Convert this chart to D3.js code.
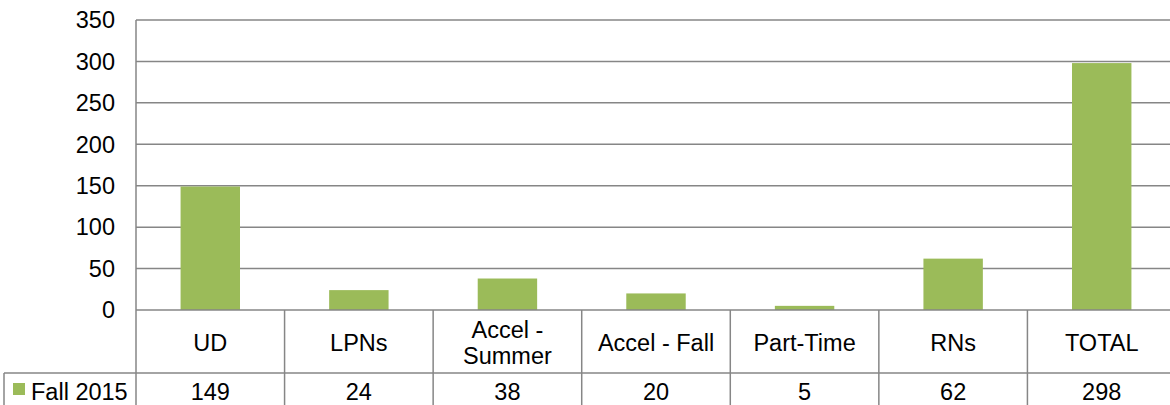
<!DOCTYPE html>
<html>
<head>
<meta charset="utf-8">
<script src="https://cdn.jsdelivr.net/npm/d3@7"></script>
<style>
  html, body { margin: 0; padding: 0; background: #fff; overflow: hidden; }
  svg { display: block; font-family: "Liberation Sans", Arial, sans-serif; }
</style>
</head>
<body>
<svg id="chart" width="1170" height="405"></svg>
<script>
// chart data
const categories = ['UD', 'LPNs', 'Accel - Summer', 'Accel - Fall', 'Part-Time', 'RNs', 'TOTAL'];
const fall2015 = [149, 24, 38, 20, 5, 62, 298];
const seriesName = 'Fall 2015';
const yTicks = [0, 50, 100, 150, 200, 250, 300, 350];

const svg = d3.select('#chart');
const plotL = 136, plotR = 1176, plotT = 20, base = 310, row2 = 373, tableB = 420;
const grey = '#868686', green = '#9BBB59', fontSize = 23.5;

const x = d3.scaleBand().domain(categories).range([plotL, plotR]).padding(0);
const xBar = d3.scaleBand().domain(categories).range([plotL, plotR])
  .paddingInner(0.6).paddingOuter(0.3);
const y = d3.scaleLinear().domain([0, 350]).range([base, plotT]);

// gridlines
svg.append('g').selectAll('line')
  .data(yTicks.filter(d => d > 0))
  .enter().append('line')
  .attr('x1', plotL).attr('x2', plotR)
  .attr('y1', d => y(d)).attr('y2', d => y(d))
  .attr('stroke', grey).attr('stroke-width', 1.5);

// y tick labels
svg.append('g').selectAll('text')
  .data(yTicks)
  .enter().append('text')
  .attr('x', 115).attr('y', d => y(d))
  .attr('dy', '0.35em')
  .attr('text-anchor', 'end')
  .attr('font-size', fontSize)
  .attr('fill', '#000')
  .text(d => d);

// bars
svg.append('g').selectAll('rect')
  .data(fall2015)
  .enter().append('rect')
  .attr('x', (d, i) => xBar(categories[i]))
  .attr('width', xBar.bandwidth())
  .attr('y', d => y(d))
  .attr('height', d => y(0) - y(d))
  .attr('fill', green);

// data table lines
const lines = svg.append('g').attr('stroke', grey).attr('stroke-width', 1.5);
lines.append('line').attr('x1', plotL).attr('x2', plotL).attr('y1', plotT).attr('y2', tableB);
lines.append('line').attr('x1', plotL).attr('x2', plotR).attr('y1', base).attr('y2', base);
lines.append('line').attr('x1', 4).attr('x2', plotR).attr('y1', row2).attr('y2', row2);
lines.append('line').attr('x1', 4).attr('x2', 4).attr('y1', row2).attr('y2', tableB);
lines.selectAll('.sep')
  .data(categories.slice(1))
  .enter().append('line')
  .attr('class', 'sep')
  .attr('x1', d => x(d)).attr('x2', d => x(d))
  .attr('y1', base).attr('y2', tableB);

// category labels, wrapped to cell width
const measure = svg.append('text').attr('font-size', fontSize).attr('visibility', 'hidden');
function wrap(label, maxW) {
  const words = label.split(' ');
  const out = [];
  let cur = '';
  words.forEach(w => {
    const test = cur ? cur + ' ' + w : w;
    measure.text(test);
    if (cur && measure.node().getComputedTextLength() > maxW) {
      out.push(cur);
      cur = w;
    } else {
      cur = test;
    }
  });
  if (cur) out.push(cur);
  return out;
}

const lineH = 26;
const catG = svg.append('g');
categories.forEach(c => {
  const rows = wrap(c, x.bandwidth() - 10);
  const cy = (base + row2) / 2 + 1;
  const t = catG.append('text')
    .attr('text-anchor', 'middle')
    .attr('font-size', fontSize)
    .attr('fill', '#000');
  rows.forEach((r, j) => {
    t.append('tspan')
      .attr('x', x(c) + x.bandwidth() / 2)
      .attr('y', cy + (j - (rows.length - 1) / 2) * lineH)
      .attr('dy', '0.35em')
      .text(r);
  });
});
measure.remove();

// value row
const valY = 392;
svg.append('g').selectAll('text')
  .data(fall2015)
  .enter().append('text')
  .attr('x', (d, i) => x(categories[i]) + x.bandwidth() / 2)
  .attr('y', valY)
  .attr('dy', '0.35em')
  .attr('text-anchor', 'middle')
  .attr('font-size', fontSize)
  .attr('fill', '#000')
  .text(d => d);

// legend key in table
svg.append('rect').attr('x', 13).attr('y', 383).attr('width', 12).attr('height', 12).attr('fill', green);
svg.append('text')
  .attr('x', 31).attr('y', valY).attr('dy', '0.35em')
  .attr('font-size', fontSize).attr('fill', '#000')
  .text(seriesName);
</script>
</body>
</html>
